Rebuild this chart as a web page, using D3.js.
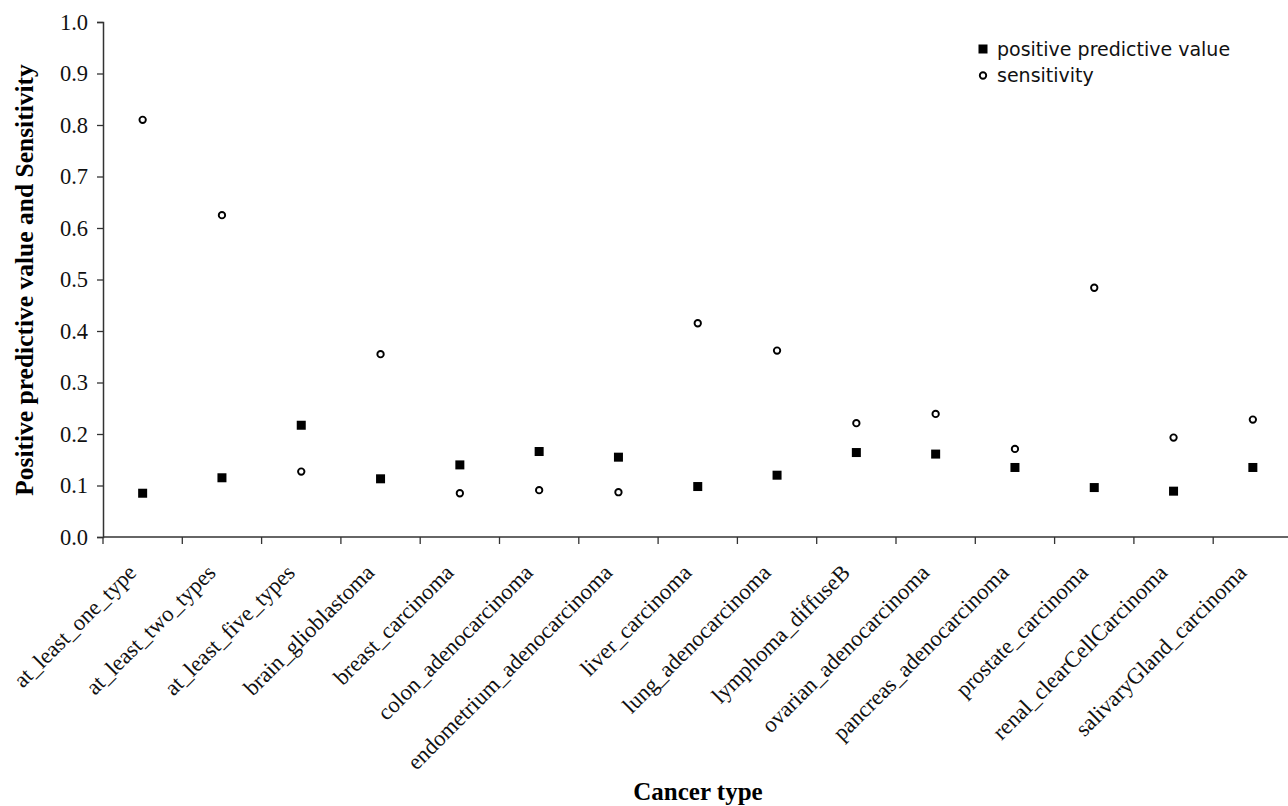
<!DOCTYPE html>
<html>
<head>
<meta charset="utf-8">
<script src="https://cdn.jsdelivr.net/npm/d3@7"></script>
<style>
  html, body { margin: 0; padding: 0; background: #fff; }
  svg { display: block; }
</style>
</head>
<body>
<svg id="chart" width="1288" height="806"></svg>
<script>
const categories = [
  "at_least_one_type", "at_least_two_types", "at_least_five_types",
  "brain_glioblastoma", "breast_carcinoma", "colon_adenocarcinoma",
  "endometrium_adenocarcinoma", "liver_carcinoma", "lung_adenocarcinoma",
  "lymphoma_diffuseB", "ovarian_adenocarcinoma", "pancreas_adenocarcinoma",
  "prostate_carcinoma", "renal_clearCellCarcinoma", "salivaryGland_carcinoma"
];
const ppvValues = [0.085, 0.115, 0.217, 0.113, 0.140, 0.166, 0.155, 0.098, 0.120, 0.164, 0.161, 0.135, 0.096, 0.089, 0.135];
const sensitivityValues = [0.810, 0.625, 0.127, 0.355, 0.085, 0.091, 0.087, 0.415, 0.362, 0.221, 0.239, 0.171, 0.484, 0.193, 0.228];
const yTicks = [0, 0.1, 0.2, 0.3, 0.4, 0.5, 0.6, 0.7, 0.8, 0.9, 1.0];
const seriesNames = ["positive predictive value", "sensitivity"];
const xTitle = "Cancer type";
const yTitle = "Positive predictive value and Sensitivity";

(function () {
const svg = d3.select("#chart");
const mLeft = 103, mTop = 22, mBottom = 537, bandW = 79.3;

const x = d3.scaleBand().domain(categories).range([mLeft, mLeft + categories.length * bandW]).padding(0);
const y = d3.scaleLinear().domain([0, 1]).range([mBottom, mTop]);

const serif = "'Liberation Serif', 'Times New Roman', serif";
const sans = "'DejaVu Sans', Verdana, sans-serif";

// Y axis
const yAxis = svg.append("g")
  .attr("transform", `translate(${mLeft},0)`)
  .call(d3.axisLeft(y).tickValues(yTicks).tickFormat(d3.format(".1f")).tickSize(6).tickPadding(9));
yAxis.select(".domain").attr("stroke", "#333").attr("stroke-width", 1.5);
yAxis.selectAll(".tick line").attr("stroke", "#333").attr("stroke-width", 1.3);
yAxis.selectAll(".tick text").attr("font-family", serif).attr("font-size", 22.5).attr("fill", "#111");

// X axis (ticks at category boundaries)
const boundaries = d3.range(categories.length + 1).map(i => mLeft + i * bandW);
const xAxisG = svg.append("g");
xAxisG.append("line")
  .attr("x1", mLeft).attr("x2", mLeft + categories.length * bandW)
  .attr("y1", mBottom).attr("y2", mBottom)
  .attr("stroke", "#333").attr("stroke-width", 1.5);
xAxisG.selectAll("line.tk").data(boundaries).join("line").attr("class", "tk")
  .attr("x1", d => d).attr("x2", d => d)
  .attr("y1", mBottom).attr("y2", mBottom + 7)
  .attr("stroke", "#333").attr("stroke-width", 1.3);
xAxisG.selectAll("text.cat").data(categories).join("text").attr("class", "cat")
  .attr("transform", d => `translate(${x(d) + x.bandwidth() / 2 - 5},${mBottom + 37}) rotate(-45)`)
  .attr("text-anchor", "end")
  .attr("font-family", serif).attr("font-size", 22.5).attr("fill", "#111")
  .text(d => d);

// Titles
svg.append("text")
  .attr("x", 698).attr("y", 799.5)
  .attr("text-anchor", "middle")
  .attr("font-family", serif).attr("font-weight", "bold").attr("font-size", 25).attr("fill", "#000")
  .text(xTitle);
svg.append("text")
  .attr("transform", `translate(33,280) rotate(-90)`)
  .attr("text-anchor", "middle")
  .attr("font-family", serif).attr("font-weight", "bold").attr("font-size", 25.5).attr("fill", "#000")
  .text(yTitle);

// Points
const sq = 9;
svg.append("g").selectAll("rect").data(categories).join("rect")
  .attr("x", (d, i) => x(d) + x.bandwidth() / 2 - sq / 2)
  .attr("y", (d, i) => y(ppvValues[i]) - sq / 2)
  .attr("width", sq).attr("height", sq)
  .attr("fill", "#000");
svg.append("g").selectAll("circle").data(categories).join("circle")
  .attr("cx", (d, i) => x(d) + x.bandwidth() / 2)
  .attr("cy", (d, i) => y(sensitivityValues[i]))
  .attr("r", 3.2)
  .attr("fill", "#fff").attr("stroke", "#000").attr("stroke-width", 1.9);

// Legend
const lg = svg.append("g").attr("transform", "translate(983,49)");
lg.append("rect").attr("x", -sq / 2).attr("y", -sq / 2).attr("width", sq).attr("height", sq).attr("fill", "#000");
lg.append("circle").attr("cx", 0).attr("cy", 26.5).attr("r", 3.2)
  .attr("fill", "#fff").attr("stroke", "#000").attr("stroke-width", 1.9);
lg.selectAll("text").data(seriesNames).join("text")
  .attr("x", 14).attr("y", (d, i) => i * 26.5)
  .attr("dy", "0.35em")
  .attr("font-family", sans).attr("font-size", 19).attr("fill", "#111")
  .text(d => d);
})();
</script>
</body>
</html>
